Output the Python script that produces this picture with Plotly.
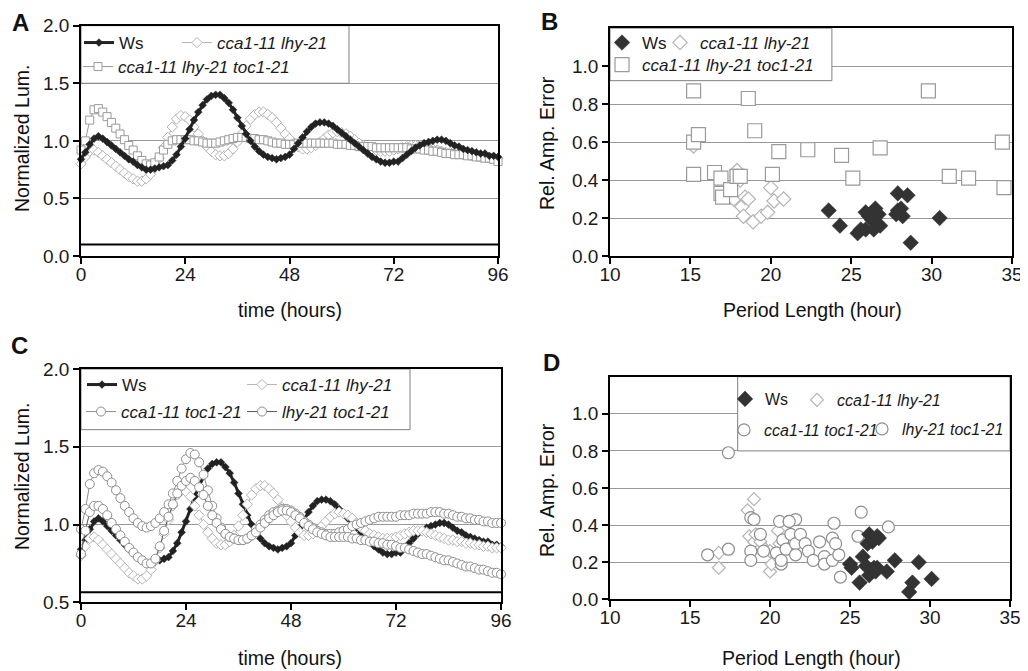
import plotly.graph_objects as go

# ---------------- data ----------------
hours = [0, 1, 2, 3, 4, 5, 6, 7, 8, 9, 10, 11, 12, 13, 14, 15, 16, 17, 18, 19,
         20, 21, 22, 23, 24, 25, 26, 27, 28, 29, 30, 31, 32, 33, 34, 35, 36, 37, 38, 39,
         40, 41, 42, 43, 44, 45, 46, 47, 48, 49, 50, 51, 52, 53, 54, 55, 56, 57, 58, 59,
         60, 61, 62, 63, 64, 65, 66, 67, 68, 69, 70, 71, 72, 73, 74, 75, 76, 77, 78, 79,
         80, 81, 82, 83, 84, 85, 86, 87, 88, 89, 90, 91, 92, 93, 94, 95, 96]

ws_lum = [0.84, 0.90, 0.97, 1.02, 1.04, 1.02, 0.99, 0.96, 0.93, 0.90,
          0.87, 0.84, 0.82, 0.79, 0.77, 0.75, 0.75, 0.76, 0.77, 0.78,
          0.79, 0.83, 0.88, 0.95, 1.02, 1.10, 1.18, 1.25, 1.31, 1.36,
          1.39, 1.40, 1.40, 1.37, 1.33, 1.27, 1.20, 1.13, 1.06, 1.00,
          0.95, 0.91, 0.88, 0.86, 0.85, 0.84, 0.85, 0.86, 0.88, 0.93,
          0.98, 1.03, 1.08, 1.12, 1.15, 1.16, 1.16, 1.15, 1.13, 1.10,
          1.07, 1.04, 1.01, 0.98, 0.95, 0.92, 0.89, 0.86, 0.84, 0.82,
          0.81, 0.81, 0.82, 0.82, 0.85, 0.88, 0.91, 0.94, 0.96, 0.98,
          0.99, 1.00, 1.01, 1.01, 1.00, 0.98, 0.96, 0.95, 0.93, 0.92,
          0.91, 0.90, 0.89, 0.89, 0.87, 0.87, 0.86]

dm_lum = [0.80, 0.86, 0.91, 0.92, 0.90, 0.87, 0.84, 0.81, 0.78, 0.75,
          0.72, 0.69, 0.67, 0.65, 0.65, 0.67, 0.71, 0.77, 0.85, 0.94,
          1.03, 1.12, 1.19, 1.22, 1.21, 1.18, 1.12, 1.06, 1.00, 0.95,
          0.91, 0.88, 0.87, 0.87, 0.89, 0.93, 0.99, 1.06, 1.13, 1.19,
          1.23, 1.25, 1.25, 1.23, 1.20, 1.16, 1.11, 1.06, 1.02, 0.98,
          0.95, 0.93, 0.93, 0.94, 0.96, 0.99, 1.02, 1.05, 1.07, 1.08,
          1.07, 1.06, 1.04, 1.01, 0.98, 0.96, 0.94, 0.93, 0.92, 0.91,
          0.91, 0.91, 0.92, 0.93, 0.94, 0.95, 0.96, 0.96, 0.96, 0.95,
          0.94, 0.93, 0.92, 0.91, 0.90, 0.90, 0.89, 0.89, 0.88, 0.88,
          0.87, 0.87, 0.86, 0.86, 0.85, 0.85, 0.85]

tm_lum = [0.92, 1.00, 1.18, 1.27, 1.28, 1.25, 1.21, 1.16, 1.11, 1.06,
          1.01, 0.96, 0.92, 0.87, 0.83, 0.80, 0.79, 0.81, 0.86, 0.92,
          0.97, 1.00, 1.01, 1.01, 1.01, 1.01, 1.00, 1.00, 0.99, 0.98,
          0.98, 0.98, 0.99, 1.00, 1.01, 1.02, 1.03, 1.03, 1.03, 1.02,
          1.02, 1.01, 1.01, 1.00, 0.99, 0.98, 0.98, 0.97, 0.97, 0.97,
          0.98, 0.98, 0.98, 0.98, 0.98, 0.98, 0.98, 0.98, 0.98, 0.97,
          0.97, 0.97, 0.96, 0.96, 0.95, 0.95, 0.95, 0.95, 0.94, 0.94,
          0.94, 0.94, 0.94, 0.94, 0.94, 0.94, 0.93, 0.93, 0.93, 0.92,
          0.92, 0.91, 0.91, 0.90, 0.89, 0.89, 0.88, 0.88, 0.88, 0.87,
          0.87, 0.86, 0.86, 0.85, 0.85, 0.84, 0.82]

ct_lum = [0.97, 1.10, 1.26, 1.33, 1.35, 1.34, 1.31, 1.27, 1.22, 1.17,
          1.12, 1.08, 1.04, 1.01, 0.99, 0.98, 0.99, 1.01, 1.04, 1.08,
          1.13, 1.20, 1.28, 1.36, 1.42, 1.46, 1.45, 1.40, 1.32, 1.22,
          1.12, 1.04, 0.98, 0.94, 0.92, 0.91, 0.90, 0.90, 0.91, 0.93,
          0.97, 1.00, 1.03, 1.06, 1.08, 1.09, 1.10, 1.10, 1.09, 1.07,
          1.05, 1.02, 1.00, 0.98, 0.96, 0.95, 0.94, 0.94, 0.94, 0.95,
          0.96, 0.97, 0.99, 1.00, 1.01, 1.02, 1.03, 1.04, 1.05, 1.05,
          1.05, 1.05, 1.05, 1.06, 1.06, 1.06, 1.07, 1.07, 1.07, 1.07,
          1.08, 1.08, 1.08, 1.07, 1.07, 1.06, 1.05, 1.05, 1.04, 1.04,
          1.03, 1.03, 1.02, 1.02, 1.01, 1.01, 1.01]

lt_lum = [0.81, 0.96, 1.08, 1.12, 1.12, 1.10, 1.06, 1.01, 0.97, 0.93,
          0.89, 0.85, 0.82, 0.79, 0.77, 0.75, 0.75, 0.78, 0.86, 0.96,
          1.05, 1.13, 1.20, 1.25, 1.28, 1.30, 1.28, 1.24, 1.19, 1.12,
          1.06, 1.01, 0.97, 0.94, 0.92, 0.91, 0.90, 0.90, 0.91, 0.93,
          0.95, 0.98, 1.01, 1.04, 1.06, 1.08, 1.09, 1.09, 1.08, 1.06,
          1.04, 1.01, 0.99, 0.97, 0.95, 0.94, 0.93, 0.92, 0.92, 0.92,
          0.92, 0.92, 0.91, 0.91, 0.90, 0.90, 0.89, 0.89, 0.88, 0.88,
          0.87, 0.87, 0.86, 0.85, 0.85, 0.84, 0.83, 0.82, 0.81, 0.81,
          0.80, 0.79, 0.78, 0.77, 0.77, 0.76, 0.75, 0.74, 0.73, 0.73,
          0.72, 0.71, 0.71, 0.70, 0.69, 0.69, 0.68]

# panel B
ws_B_period = [23.6, 24.3, 25.4, 25.6, 25.9, 25.9, 26.1, 26.3, 26.4, 26.5,
               26.7, 26.8, 27.8, 27.9, 27.9, 28.1, 28.2, 28.5, 28.7, 30.5]
ws_B_err = [0.24, 0.16, 0.12, 0.14, 0.14, 0.23, 0.21, 0.19, 0.14, 0.25,
            0.22, 0.16, 0.22, 0.24, 0.33, 0.25, 0.21, 0.32, 0.07, 0.20]
dm_B_period = [15.2, 17.5, 17.7, 17.9, 17.9, 18.1, 18.2, 18.3, 18.4, 18.6,
               18.9, 19.4, 19.8, 20.0, 20.2, 20.8]
dm_B_err = [0.58, 0.31, 0.30, 0.45, 0.42, 0.40, 0.26, 0.21, 0.31, 0.30,
            0.18, 0.21, 0.23, 0.36, 0.29, 0.30]
tm_B_period = [15.2, 15.2, 15.2, 15.5, 16.5, 16.9, 16.9, 17.0, 17.5, 17.9,
               18.1, 18.6, 19.0, 20.1, 20.5, 22.3, 24.4, 25.1, 26.8, 29.8,
               31.1, 32.3, 34.4, 34.5]
tm_B_err = [0.87, 0.60, 0.43, 0.64, 0.44, 0.41, 0.33, 0.31, 0.35, 0.42,
            0.42, 0.83, 0.66, 0.43, 0.55, 0.56, 0.53, 0.41, 0.57, 0.87,
            0.42, 0.41, 0.60, 0.36]

# panel D
ws_D_period = [25.0, 25.1, 25.6, 25.8, 26.0, 26.1, 26.2, 26.2, 26.4, 26.5,
               26.6, 26.7, 26.7, 26.8, 27.3, 27.8, 28.7, 28.9, 29.3, 30.1]
ws_D_err = [0.19, 0.17, 0.09, 0.23, 0.18, 0.30, 0.35, 0.13, 0.31, 0.17,
            0.15, 0.34, 0.17, 0.33, 0.15, 0.21, 0.04, 0.09, 0.20, 0.11]
dm_D_period = [16.8, 16.8, 18.6, 18.7, 19.0, 19.0, 19.1, 19.4, 19.7, 20.0,
               20.0, 20.1, 20.5, 20.6]
dm_D_err = [0.25, 0.17, 0.48, 0.34, 0.54, 0.31, 0.35, 0.31, 0.27, 0.26,
            0.15, 0.19, 0.37, 0.30]
ct_D_period = [16.1, 17.4, 17.4, 18.8, 19.0, 18.8, 18.8, 19.4, 19.6, 20.4,
               20.6, 20.8, 20.7, 21.0, 21.2, 21.3, 21.6, 21.6]
ct_D_err = [0.24, 0.27, 0.79, 0.44, 0.43, 0.26, 0.21, 0.35, 0.26, 0.25,
            0.42, 0.32, 0.19, 0.27, 0.42, 0.35, 0.43, 0.30]
lt_D_period = [20.7, 21.6, 21.9, 22.2, 22.4, 22.7, 23.1, 23.4, 23.4, 23.9,
               23.9, 24.0, 24.1, 24.3, 24.4, 25.5, 25.7, 27.4, 21.2]
lt_D_err = [0.21, 0.24, 0.35, 0.30, 0.26, 0.21, 0.31, 0.23, 0.19, 0.33,
            0.21, 0.41, 0.30, 0.24, 0.12, 0.34, 0.47, 0.39, 0.42]

names = {
    "ws": "Ws",
    "dm": "<i>cca1-11 lhy-21</i>",
    "tm": "<i>cca1-11 lhy-21 toc1-21</i>",
    "ct": "<i>cca1-11 toc1-21</i>",
    "lt": "<i>lhy-21 toc1-21</i>",
}
time_ticks = [0, 24, 48, 72, 96]
lumA_ticks = [0.0, 0.5, 1.0, 1.5, 2.0]
lumC_ticks = [0.5, 1.0, 1.5, 2.0]
period_ticks = [10, 15, 20, 25, 30, 35]
err_ticks = [0.0, 0.2, 0.4, 0.6, 0.8, 1.0]
baseline_A = 0.1
baseline_C = 0.565

# ---------------- layout helpers ----------------
OFF = 8                      # page body margin
W, H = 1028 - OFF, 671 - OFF
FONT = "Liberation Sans, Arial, sans-serif"


def fx(p):
    return (p - OFF) / W


def fy(p):
    return 1 - (p - OFF) / H


WS_C = "#222222"
DM_C = "#b4b4b4"
TM_C = "#9a9a9a"
CT_C = "#8e8e8e"

fig = go.Figure()


def ts(x, y, name, color, symbol, size, lw, lcolor, xa, ya, leg, filled=False):
    fig.add_trace(go.Scatter(
        x=x, y=y, name=name, mode="lines+markers", xaxis=xa, yaxis=ya,
        legend=leg, cliponaxis=False, showlegend=True,
        line=dict(color=lcolor, width=lw),
        marker=dict(symbol=symbol, size=size,
                    color=color if filled else "white",
                    line=dict(color=color, width=1 if not filled else 0.5)),
    ))


def sc(x, y, name, color, symbol, size, xa, ya, leg, filled=False):
    fig.add_trace(go.Scatter(
        x=x, y=y, name=name, mode="markers", xaxis=xa, yaxis=ya,
        legend=leg, cliponaxis=False, showlegend=True,
        marker=dict(symbol=symbol, size=size,
                    color=color if filled else "white",
                    line=dict(color=color, width=1.2 if not filled else 0.5)),
    ))


# Panel A
ts(hours, dm_lum, names["dm"], DM_C, "diamond", 8, 1, DM_C, "x", "y", "legend2")
ts(hours, tm_lum, names["tm"], TM_C, "square", 8, 1, TM_C, "x", "y", "legend3")
ts(hours, ws_lum, names["ws"], WS_C, "diamond", 6, 3, WS_C, "x", "y", "legend", filled=True)

# Panel B
sc(ws_B_period, ws_B_err, names["ws"], "#333333", "diamond", 12, "x2", "y2", "legend4", filled=True)
sc(dm_B_period, dm_B_err, names["dm"], DM_C, "diamond", 11, "x2", "y2", "legend5")
sc(tm_B_period, tm_B_err, names["tm"], TM_C, "square", 14, "x2", "y2", "legend6")

# Panel C
ts(hours, ws_lum, names["ws"], WS_C, "diamond", 6, 3, WS_C, "x3", "y3", "legend7", filled=True)
ts(hours, dm_lum, names["dm"], DM_C, "diamond", 8, 1, DM_C, "x3", "y3", "legend8")
ts(hours, ct_lum, names["ct"], CT_C, "circle", 9, 1, CT_C, "x3", "y3", "legend9")
ts(hours, lt_lum, names["lt"], CT_C, "circle", 9, 1, "#555555", "x3", "y3", "legend10")

# Panel D
sc(dm_D_period, dm_D_err, names["dm"], DM_C, "diamond", 10, "x4", "y4", "legend12")
sc(ct_D_period, ct_D_err, names["ct"], CT_C, "circle", 12, "x4", "y4", "legend13")
sc(lt_D_period, lt_D_err, names["lt"], CT_C, "circle", 12, "x4", "y4", "legend14")
sc(ws_D_period, ws_D_err, names["ws"], "#333333", "diamond", 12, "x4", "y4", "legend11", filled=True)

axis_base = dict(showline=True, linecolor="black", linewidth=1.5, mirror=True,
                 ticks="outside", ticklen=6, tickwidth=1.8, tickcolor="black",
                 tickfont=dict(size=19, color="#1a1a1a", family=FONT),
                 zeroline=False, fixedrange=True, automargin=False)
xbase = dict(axis_base, showgrid=False, ticklabelstandoff=-6)
ybase = dict(axis_base, showgrid=True, gridcolor="#999999", gridwidth=1, tickformat=".1f")

layout = dict(
    width=W, height=H, margin=dict(l=0, r=0, t=0, b=0, autoexpand=False),
    showlegend=True,
    paper_bgcolor="white", plot_bgcolor="white",
    font=dict(family=FONT, color="#1a1a1a"),
    xaxis=dict(xbase, domain=[fx(81), fx(498)], range=[0, 96], tickvals=time_ticks, anchor="y"),
    yaxis=dict(ybase, domain=[fy(256), fy(25.7)], range=[0, 2], tickvals=lumA_ticks, anchor="x"),
    xaxis2=dict(xbase, domain=[fx(610), fx(1012)], range=[10, 35], tickvals=period_ticks, anchor="y2"),
    yaxis2=dict(ybase, domain=[fy(256), fy(28.3)], range=[0, 1.2], tickvals=err_ticks, anchor="x2"),
    xaxis3=dict(xbase, domain=[fx(81), fx(501)], range=[0, 96], tickvals=time_ticks, anchor="y3"),
    yaxis3=dict(ybase, domain=[fy(602.3), fy(369)], range=[0.5, 2], tickvals=lumC_ticks, anchor="x3"),
    xaxis4=dict(xbase, domain=[fx(610), fx(1010)], range=[10, 35], tickvals=period_ticks, anchor="y4"),
    yaxis4=dict(ybase, domain=[fy(599.3), fy(376.7)], range=[0, 1.2], tickvals=err_ticks, anchor="x4"),
)

# legends: one entry each, positioned by text start (px), centre y (px), font size
legend_pos = {
    "legend": (119, 43, 17), "legend2": (217, 43, 17), "legend3": (118, 67, 17),
    "legend4": (642, 43, 17), "legend5": (700, 43, 17), "legend6": (642, 65, 17),
    "legend7": (122, 385, 17), "legend8": (282, 385, 17), "legend9": (121, 412, 17), "legend10": (282, 412, 17),
    "legend11": (765, 399, 16), "legend12": (837, 400, 16), "legend13": (764, 430, 16), "legend14": (902, 429, 16),
}
for key, (tx, ty, fs) in legend_pos.items():
    layout[key] = dict(x=fx(tx - 40), y=fy(ty), xanchor="left", yanchor="middle",
                       bgcolor="rgba(0,0,0,0)", borderwidth=0, itemwidth=30,
                       font=dict(size=fs, family=FONT, color="#1a1a1a"),
                       itemclick=False, itemdoubleclick=False)

fig.update_layout(**layout)

# legend boxes (white, above grid, below traces) and Excel-style axis-crossing lines
box_style = dict(type="rect", fillcolor="white", line=dict(color="#808080", width=1), layer="between")
fig.add_shape(box_style, xref="x", yref="y", x0=0, x1=61.7, y0=1.5, y1=2.0)
fig.add_shape(box_style, xref="x2", yref="y2", x0=10, x1=23.8, y0=0.924, y1=1.2)
fig.add_shape(box_style, xref="x3", yref="y3", x0=0, x1=75.2, y0=1.61, y1=2.0)
fig.add_shape(box_style, xref="x4", yref="y4", x0=17.98, x1=35, y0=0.8, y1=1.2)
fig.add_shape(type="line", xref="x", yref="y", x0=0, x1=96, y0=baseline_A, y1=baseline_A,
              line=dict(color="black", width=2), layer="between")
fig.add_shape(type="line", xref="x3", yref="y3", x0=0, x1=96, y0=baseline_C, y1=baseline_C,
              line=dict(color="black", width=2), layer="between")


# titles and panel letters
def ann(text, x, y, size=19.5, angle=0, bold=False):
    fig.add_annotation(text=f"<b>{text}</b>" if bold else text, x=fx(x), y=fy(y),
                       xref="paper", yref="paper", showarrow=False, textangle=angle,
                       xanchor="center", yanchor="middle", borderpad=0,
                       font=dict(size=size, family=FONT, color="#111111"))


ann("A", 20, 22, 24, bold=True)
ann("B", 549, 21, 24, bold=True)
ann("C", 19, 345, 24, bold=True)
ann("D", 551, 362, 24, bold=True)
ann("Normalized Lum.", 22, 139, angle=-90)
ann("Normalized Lum.", 22, 477, angle=-90)
ann("time (hours)", 290, 310)
ann("time (hours)", 290, 658)
ann("Rel. Amp. Error", 547, 143, angle=-90)
ann("Rel. Amp. Error", 547, 490, angle=-90)
ann("Period Length (hour)", 812, 310)
ann("Period Length (hour)", 811, 658)

fig.write_html("out.html")
